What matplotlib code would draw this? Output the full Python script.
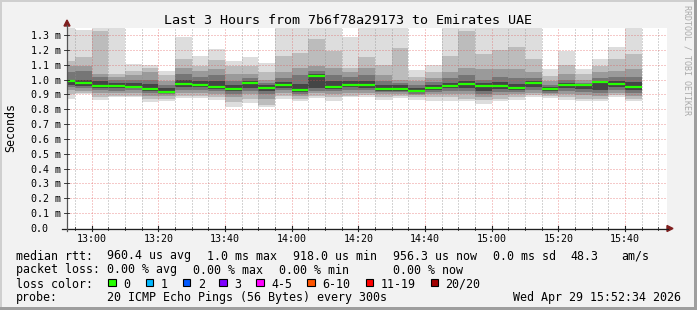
import numpy as np
import matplotlib
matplotlib.use("Agg")
import matplotlib.pyplot as plt
from matplotlib.patches import Rectangle, Polygon
from matplotlib.lines import Line2D

W, H = 697, 310

# ---------------- data (values in milliseconds) ----------------
bin_start_min = [50 + 5 * i for i in range(35)]   # minutes after 12:00, 5-min bins
median = [0.988, 0.979, 0.956, 0.956, 0.949, 0.936, 0.918, 0.970, 0.963, 0.949,
          0.936, 0.979, 0.943, 0.963, 0.929, 1.024, 0.949, 0.965, 0.963, 0.936,
          0.936, 0.925, 0.943, 0.956, 0.970, 0.956, 0.956, 0.943, 0.979, 0.936,
          0.963, 0.963, 0.985, 0.970, 0.949]
hi1 = [1.40, 1.334, 1.40, 1.40, 1.105, 1.10, 1.06, 1.289, 1.16, 1.206,
       1.127, 1.154, 1.109, 1.40, 1.40, 1.40, 1.40, 1.284, 1.40, 1.40,
       1.40, 1.064, 1.10, 1.40, 1.40, 1.40, 1.40, 1.40, 1.40, 1.071,
       1.194, 1.071, 1.138, 1.222, 1.40]
lo1 = [0.869, 0.90, 0.862, 0.88, 0.88, 0.847, 0.853, 0.876, 0.876, 0.86,
       0.817, 0.84, 0.817, 0.869, 0.853, 0.876, 0.853, 0.88, 0.885, 0.862,
       0.876, 0.862, 0.858, 0.853, 0.853, 0.835, 0.853, 0.862, 0.885, 0.876,
       0.862, 0.853, 0.853, 0.885, 0.853]
hi2 = [1.127, 1.15, 1.33, 1.04, 1.06, 1.08, 1.03, 1.14, 1.09, 1.13,
       1.09, 1.09, 1.05, 1.16, 1.18, 1.27, 1.19, 1.08, 1.15, 1.10,
       1.21, 1.02, 1.05, 1.16, 1.33, 1.17, 1.20, 1.22, 1.14, 1.026,
       1.10, 1.04, 1.09, 1.14, 1.17]
lo2 = [0.90, 0.91, 0.88, 0.89, 0.89, 0.87, 0.87, 0.89, 0.89, 0.88,
       0.85, 0.87, 0.83, 0.89, 0.87, 0.89, 0.88, 0.89, 0.895, 0.88,
       0.89, 0.88, 0.88, 0.88, 0.87, 0.86, 0.87, 0.88, 0.895, 0.89,
       0.88, 0.87, 0.87, 0.895, 0.87]
hi3 = [1.09, 1.09, 1.04, 1.015, 1.03, 1.05, 0.99, 1.08, 1.06, 1.07,
       1.04, 1.04, 1.0, 1.05, 1.08, 1.09, 1.08, 1.05, 1.08, 1.03,
       1.0, 0.99, 1.01, 1.05, 1.08, 1.07, 1.07, 1.07, 1.05, 0.99,
       1.04, 1.0, 1.05, 1.06, 1.07]
lo3 = [0.93, 0.925, 0.91, 0.91, 0.91, 0.89, 0.89, 0.91, 0.91, 0.90,
       0.88, 0.90, 0.87, 0.91, 0.89, 0.91, 0.90, 0.91, 0.91, 0.90,
       0.905, 0.895, 0.90, 0.90, 0.90, 0.88, 0.895, 0.90, 0.91, 0.90,
       0.90, 0.895, 0.89, 0.91, 0.89]
hi4 = [1.05, 1.06, 1.02, 1.0, 1.0, 1.0, 0.96, 1.04, 1.02, 1.03,
       0.99, 1.01, 0.98, 1.01, 1.03, 1.06, 1.03, 1.02, 1.03, 0.99,
       0.98, 0.96, 0.985, 1.01, 1.03, 1.0, 1.02, 1.01, 1.01, 0.965,
       1.0, 0.98, 1.01, 1.02, 1.02]
lo4 = [0.95, 0.94, 0.93, 0.925, 0.93, 0.91, 0.90, 0.93, 0.93, 0.92,
       0.90, 0.92, 0.90, 0.93, 0.905, 0.925, 0.92, 0.93, 0.93, 0.915,
       0.915, 0.905, 0.915, 0.92, 0.92, 0.90, 0.915, 0.915, 0.93, 0.91,
       0.92, 0.915, 0.91, 0.93, 0.91]
hi5 = [1.00, 1.0, 0.99, 0.98, 0.975, 0.97, 0.94, 1.0, 0.99, 0.99,
       0.96, 0.99, 0.96, 0.985, 0.97, 1.04, 0.99, 0.99, 0.99, 0.96,
       0.96, 0.945, 0.965, 0.98, 0.99, 0.98, 0.985, 0.97, 0.99, 0.95,
       0.98, 0.97, 0.99, 0.99, 0.985]
lo5 = [0.965, 0.955, 0.945, 0.94, 0.94, 0.925, 0.91, 0.95, 0.95, 0.935,
       0.92, 0.945, 0.92, 0.945, 0.915, 0.94, 0.935, 0.95, 0.945, 0.925,
       0.925, 0.915, 0.93, 0.94, 0.945, 0.92, 0.935, 0.93, 0.95, 0.92,
       0.94, 0.935, 0.93, 0.95, 0.93]

ytick_vals = [0.0, 0.1, 0.2, 0.3, 0.4, 0.5, 0.6, 0.7, 0.8, 0.9, 1.0, 1.1, 1.2, 1.3]
xtick_min = [60, 80, 100, 120, 140, 160, 180, 200, 220]
xtick_labels = ["13:00", "13:20", "13:40", "14:00", "14:20", "14:40", "15:00", "15:20", "15:40"]

title = "Last 3 Hours from 7b6f78a29173 to Emirates UAE"
loss_labels = ["0", "1", "2", "3", "4-5", "6-10", "11-19", "20/20"]
loss_colors = ["#26ff00", "#00b8ff", "#0059ff", "#7e00ff", "#ff00ff", "#ff5500", "#ff0000", "#a10000"]

# ---------------- figure ----------------
MONO = "DejaVu Sans Mono"
fig = plt.figure(figsize=(W / 100, H / 100), dpi=100)
fig.patch.set_facecolor("#f2f2f2")

def fx(x):
    return x / W

def fy(y):
    return 1 - y / H

# frame shading
fig.add_artist(Rectangle((0, 0), 1, 1, transform=fig.transFigure, facecolor="none",
                         edgecolor="none"))
fig.add_artist(Rectangle((fx(0), fy(2)), 1, 2 / H, transform=fig.transFigure,
                         facecolor="#cfcfcf", edgecolor="none"))
fig.add_artist(Rectangle((fx(0), 0), 2 / W, 1, transform=fig.transFigure,
                         facecolor="#cfcfcf", edgecolor="none"))
fig.add_artist(Rectangle((fx(W - 3), 0), 3 / W, 1, transform=fig.transFigure,
                         facecolor="#9e9e9e", edgecolor="none"))
fig.add_artist(Rectangle((0, 0), 1, 3 / H, transform=fig.transFigure,
                         facecolor="#9e9e9e", edgecolor="none"))

X0, X1, Y0, Y1 = 67, 667, 28, 228
ax = fig.add_axes([fx(X0), fy(Y1), (X1 - X0) / W, (Y1 - Y0) / H])
ax.set_facecolor("white")
for s in ax.spines.values():
    s.set_visible(False)
ax.set_xticks([])
ax.set_yticks([])
xmin, xmax = 52 + 34 / 60, 232 + 34 / 60
ax.set_xlim(xmin, xmax)
ax.set_ylim(0, 200 / 148.46)

starts = np.array(bin_start_min, dtype=float)
bands = [(lo1, hi1, "#dddddd"), (lo2, hi2, "#bcbcbc"), (lo3, hi3, "#9a9a9a"),
         (lo4, hi4, "#767676"), (lo5, hi5, "#454545")]
for lo, hi, col in bands:
    lo = np.array(lo); hi = np.array(hi)
    ax.bar(starts, hi - lo, width=5, bottom=lo, align="edge", color=col,
           linewidth=0, zorder=1)

# grid
gcol = (0.56, 0.56, 0.56, 0.75)
mcol = (0.87, 0.31, 0.31, 0.6)
for m in range(55, 233, 5):
    if m in xtick_min:
        continue
    ax.axvline(m, color=gcol, lw=0.72, ls=(0, (1, 2)), zorder=2)
for m in xtick_min:
    ax.axvline(m, color=mcol, lw=0.72, ls=(0, (1, 2)), zorder=2)
for v in ytick_vals[1:]:
    ax.axhline(v, color=mcol, lw=0.72, ls=(0, (1, 2)), zorder=2)

# median line (loss 0 -> green)
ax.hlines(median, starts, starts + 5, colors="#26ff00", lw=1.6, zorder=3)

# axes lines & arrows
axis_col = "#1f1f1f"
arrow_col = "#801f1f"
fig.add_artist(Line2D([fx(62), fx(668)], [fy(228.5), fy(228.5)], color=axis_col, lw=0.9,
                      transform=fig.transFigure))
fig.add_artist(Line2D([fx(67), fx(67)], [fy(231), fy(25)], color="#555555", lw=0.9,
                      transform=fig.transFigure))
fig.add_artist(Polygon([(fx(667), fy(225.5)), (fx(667), fy(231.5)), (fx(673), fy(228.5))],
                       closed=True, transform=fig.transFigure, color=arrow_col))
fig.add_artist(Polygon([(fx(64), fy(26)), (fx(70), fy(26)), (fx(67), fy(20))],
                       closed=True, transform=fig.transFigure, color=arrow_col))

def xpix(m):
    return X0 + (m - xmin) / (xmax - xmin) * (X1 - X0)

def ypix(v):
    return Y1 - v * 148.46

for m in range(55, 233, 5):
    xp = xpix(m)
    if m in xtick_min:
        fig.add_artist(Line2D([fx(xp), fx(xp)], [fy(226), fy(231)], color=axis_col, lw=0.8,
                              transform=fig.transFigure))
    else:
        fig.add_artist(Line2D([fx(xp), fx(xp)], [fy(227), fy(230)], color=axis_col, lw=0.6,
                              transform=fig.transFigure))
for v in ytick_vals[1:]:
    yp = ypix(v)
    fig.add_artist(Line2D([fx(64), fx(69)], [fy(yp), fy(yp)], color=axis_col, lw=0.6,
                          transform=fig.transFigure))

# tick labels
for v in ytick_vals:
    lab = "%.1f m" % v if v > 0 else "0.0"
    fig.text(fx(30.5), fy(ypix(v)), lab, family=MONO, fontsize=7.2, ha="left",
             va="center_baseline")
for m, lab in zip(xtick_min, xtick_labels):
    fig.text(fx(xpix(m)), fy(237.5), lab, family=MONO, fontsize=7.2, ha="center",
             va="center_baseline")

# title & labels
fig.text(fx(348), fy(19), title, family=MONO, fontsize=9.6, ha="center",
         va="center_baseline")
fig.text(fx(11), fy(128), "Seconds", family=MONO, fontsize=8.4, rotation=90,
         ha="center", va="center")
fig.text(fx(687), fy(60), "RRDTOOL / TOBI OETIKER", family=MONO, fontsize=6,
         rotation=270, ha="center", va="center", color="#aaaaaa")

# legend
LF = 8.4
def lt(x, y, s):
    fig.text(fx(x), fy(y), s, family=MONO, fontsize=LF, ha="left", va="center_baseline")

r1, r2, r3, r4 = 254.5, 268.5, 282.5, 296.5
lt(16, r1, "median rtt:")
lt(107.3, r1, "960.4 us avg")
lt(207.3, r1, "1.0 ms max")
lt(293.3, r1, "918.0 us min")
lt(393.3, r1, "956.3 us now")
lt(493.3, r1, "0.0 ms sd")
lt(570, r1, "48.3")
lt(621.7, r1, "am/s")

lt(16, r2, "packet loss:")
lt(107.3, r2, "0.00 % avg")
lt(193.3, r2, "0.00 % max")
lt(279.3, r2, "0.00 % min")
lt(393.3, r2, "0.00 % now")

lt(16, r3, "loss color:")
box_x = [108.3, 145.7, 182.7, 219.3, 256.0, 307.3, 365.5, 430.5]
for bx, lab, col in zip(box_x, loss_labels, loss_colors):
    fig.add_artist(Rectangle((fx(bx), fy(r3 + 3.7)), 7.5 / W, 7.5 / H,
                             transform=fig.transFigure, facecolor=col,
                             edgecolor="black", lw=0.8))
    lt(bx + 15, r3, lab)

lt(16, r4, "probe:")
lt(107.3, r4, "20 ICMP Echo Pings (56 Bytes) every 300s")
lt(513.3, r4, "Wed Apr 29 15:52:34 2026")

fig.savefig("out.png", dpi=100, facecolor=fig.get_facecolor())
